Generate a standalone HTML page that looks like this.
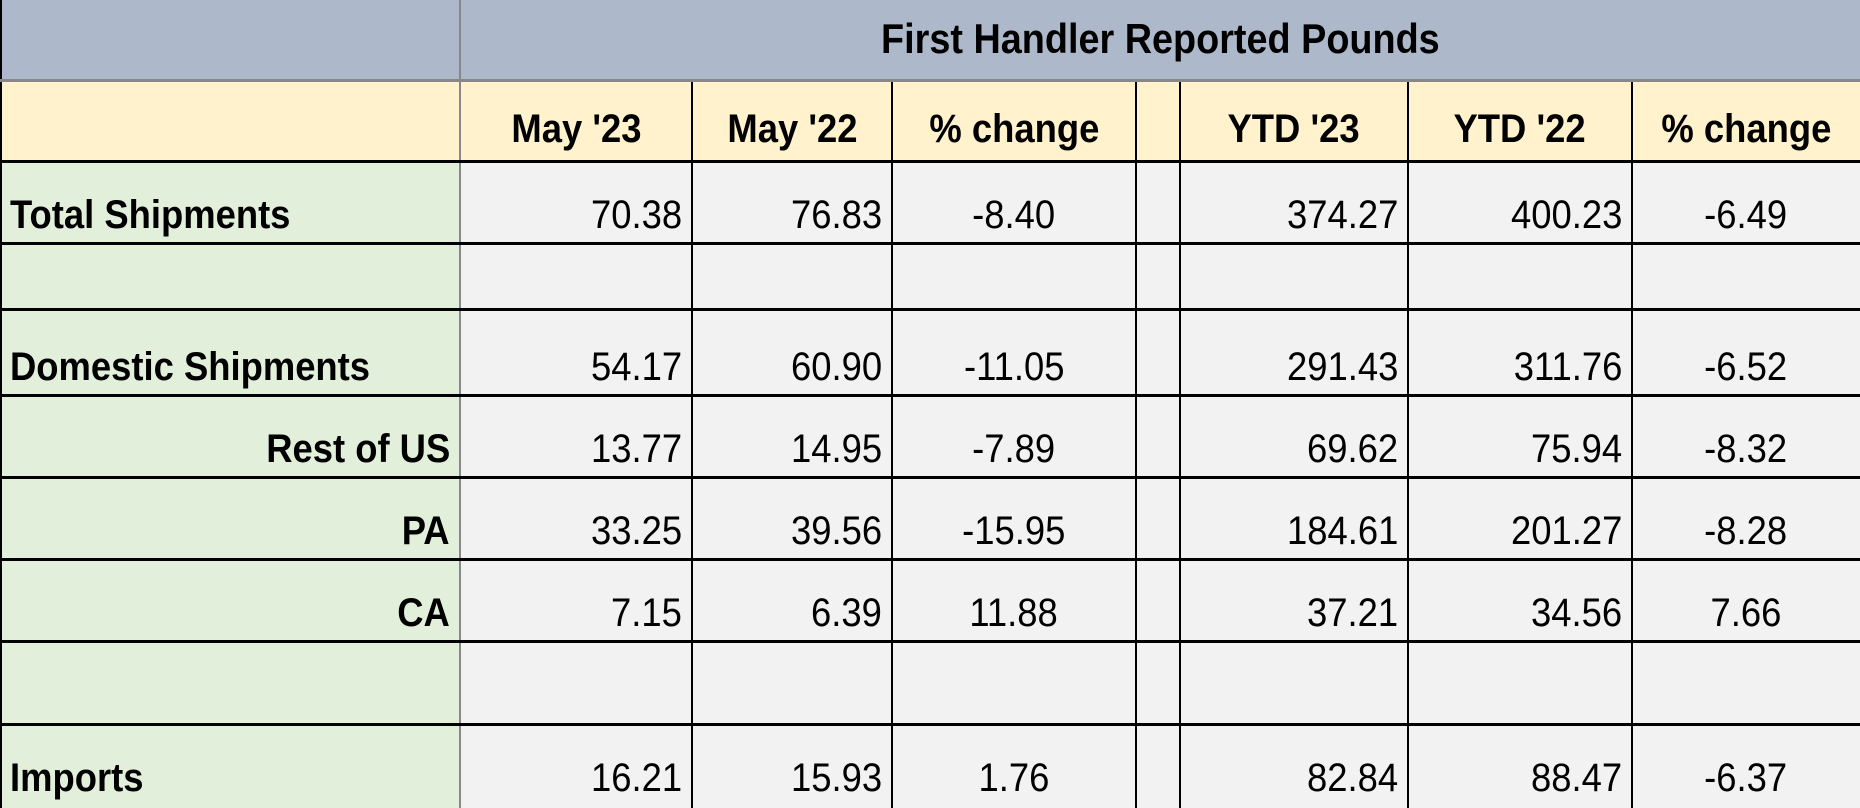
<!DOCTYPE html>
<html><head><meta charset="utf-8"><style>
body{margin:0;width:1860px;height:808px;overflow:hidden;background:#f2f2f2;font-family:"Liberation Sans",sans-serif;position:relative;}
.c{position:absolute;box-sizing:border-box;display:flex;align-items:flex-end;font-size:40px;color:#000;white-space:nowrap;padding-bottom:6px;}
.c span{display:inline-block;transform:scaleX(0.91);}
.b{font-weight:bold;}
.r{justify-content:flex-end;padding-right:10px;}
.r span{transform-origin:right bottom;}
.m{justify-content:center;}
.l{justify-content:flex-start;padding-left:10px;}
.l span{transform-origin:left bottom;}
.v{position:absolute;width:2px;background:#000;}
.hz{position:absolute;left:0;width:1860px;height:3px;background:#000;}
</style></head><body>
<div style="position:absolute;left:0;top:0;width:1860px;height:81px;background:#adb9ca"></div>
<div style="position:absolute;left:0;top:81px;width:1860px;height:81px;background:#fff2cc"></div>
<div style="position:absolute;left:0;top:162px;width:460px;height:646px;background:#e2efda"></div>
<div class="c b m" style="left:460px;top:0;width:1400px;height:78px;align-items:center;padding-bottom:0;font-size:42px"><span style="transform:scaleX(0.9)">First Handler Reported Pounds</span></div>

<div class="c b m" style="left:460px;top:81px;width:232px;height:81px;padding-bottom:10px"><span>May '23</span></div>
<div class="c b m" style="left:692px;top:81px;width:200px;height:81px;padding-bottom:10px"><span>May '22</span></div>
<div class="c b m" style="left:892px;top:81px;width:244px;height:81px;padding-bottom:10px"><span>% change</span></div>
<div class="c b m" style="left:1180px;top:81px;width:228px;height:81px;padding-bottom:10px"><span>YTD '23</span></div>
<div class="c b m" style="left:1408px;top:81px;width:224px;height:81px;padding-bottom:10px"><span>YTD '22</span></div>
<div class="c b m" style="left:1632px;top:81px;width:228px;height:81px;padding-bottom:10px"><span>% change</span></div>

<div class="c b l" style="left:0;top:162px;width:460px;height:82px"><span>Total Shipments</span></div>
<div class="c r" style="left:460px;top:162px;width:232px;height:82px"><span>70.38</span></div>
<div class="c r" style="left:692px;top:162px;width:200px;height:82px"><span>76.83</span></div>
<div class="c m" style="left:892px;top:162px;width:244px;height:82px"><span>-8.40</span></div>
<div class="c r" style="left:1180px;top:162px;width:228px;height:82px"><span>374.27</span></div>
<div class="c r" style="left:1408px;top:162px;width:224px;height:82px"><span>400.23</span></div>
<div class="c m" style="left:1632px;top:162px;width:228px;height:82px"><span>-6.49</span></div>

<div class="c b l" style="left:0;top:310px;width:460px;height:86px"><span>Domestic Shipments</span></div>
<div class="c r" style="left:460px;top:310px;width:232px;height:86px"><span>54.17</span></div>
<div class="c r" style="left:692px;top:310px;width:200px;height:86px"><span>60.90</span></div>
<div class="c m" style="left:892px;top:310px;width:244px;height:86px"><span>-11.05</span></div>
<div class="c r" style="left:1180px;top:310px;width:228px;height:86px"><span>291.43</span></div>
<div class="c r" style="left:1408px;top:310px;width:224px;height:86px"><span>311.76</span></div>
<div class="c m" style="left:1632px;top:310px;width:228px;height:86px"><span>-6.52</span></div>

<div class="c b r" style="left:0;top:396px;width:460px;height:82px"><span>Rest of US</span></div>
<div class="c r" style="left:460px;top:396px;width:232px;height:82px"><span>13.77</span></div>
<div class="c r" style="left:692px;top:396px;width:200px;height:82px"><span>14.95</span></div>
<div class="c m" style="left:892px;top:396px;width:244px;height:82px"><span>-7.89</span></div>
<div class="c r" style="left:1180px;top:396px;width:228px;height:82px"><span>69.62</span></div>
<div class="c r" style="left:1408px;top:396px;width:224px;height:82px"><span>75.94</span></div>
<div class="c m" style="left:1632px;top:396px;width:228px;height:82px"><span>-8.32</span></div>

<div class="c b r" style="left:0;top:478px;width:460px;height:82px"><span>PA</span></div>
<div class="c r" style="left:460px;top:478px;width:232px;height:82px"><span>33.25</span></div>
<div class="c r" style="left:692px;top:478px;width:200px;height:82px"><span>39.56</span></div>
<div class="c m" style="left:892px;top:478px;width:244px;height:82px"><span>-15.95</span></div>
<div class="c r" style="left:1180px;top:478px;width:228px;height:82px"><span>184.61</span></div>
<div class="c r" style="left:1408px;top:478px;width:224px;height:82px"><span>201.27</span></div>
<div class="c m" style="left:1632px;top:478px;width:228px;height:82px"><span>-8.28</span></div>

<div class="c b r" style="left:0;top:560px;width:460px;height:82px"><span>CA</span></div>
<div class="c r" style="left:460px;top:560px;width:232px;height:82px"><span>7.15</span></div>
<div class="c r" style="left:692px;top:560px;width:200px;height:82px"><span>6.39</span></div>
<div class="c m" style="left:892px;top:560px;width:244px;height:82px"><span>11.88</span></div>
<div class="c r" style="left:1180px;top:560px;width:228px;height:82px"><span>37.21</span></div>
<div class="c r" style="left:1408px;top:560px;width:224px;height:82px"><span>34.56</span></div>
<div class="c m" style="left:1632px;top:560px;width:228px;height:82px"><span>7.66</span></div>

<div class="c b l" style="left:0;top:725px;width:460px;height:83px;padding-bottom:7px"><span>Imports</span></div>
<div class="c r" style="left:460px;top:725px;width:232px;height:83px;padding-bottom:7px"><span>16.21</span></div>
<div class="c r" style="left:692px;top:725px;width:200px;height:83px;padding-bottom:7px"><span>15.93</span></div>
<div class="c m" style="left:892px;top:725px;width:244px;height:83px;padding-bottom:7px"><span>1.76</span></div>
<div class="c r" style="left:1180px;top:725px;width:228px;height:83px;padding-bottom:7px"><span>82.84</span></div>
<div class="c r" style="left:1408px;top:725px;width:224px;height:83px;padding-bottom:7px"><span>88.47</span></div>
<div class="c m" style="left:1632px;top:725px;width:228px;height:83px;padding-bottom:7px"><span>-6.37</span></div>

<div class="v" style="left:0;top:0;height:808px"></div>
<div class="v" style="left:459px;top:0;height:808px;background:#888"></div>
<div class="v" style="left:691px;top:81px;height:727px"></div>
<div class="v" style="left:891px;top:81px;height:727px"></div>
<div class="v" style="left:1135px;top:81px;height:727px"></div>
<div class="v" style="left:1179px;top:81px;height:727px"></div>
<div class="v" style="left:1407px;top:81px;height:727px"></div>
<div class="v" style="left:1631px;top:81px;height:727px"></div>
<div class="hz" style="top:79px;background:#888"></div>
<div class="hz" style="top:160px"></div>
<div class="hz" style="top:242px"></div>
<div class="hz" style="top:308px"></div>
<div class="hz" style="top:394px"></div>
<div class="hz" style="top:476px"></div>
<div class="hz" style="top:558px"></div>
<div class="hz" style="top:640px"></div>
<div class="hz" style="top:723px"></div>
</body></html>
